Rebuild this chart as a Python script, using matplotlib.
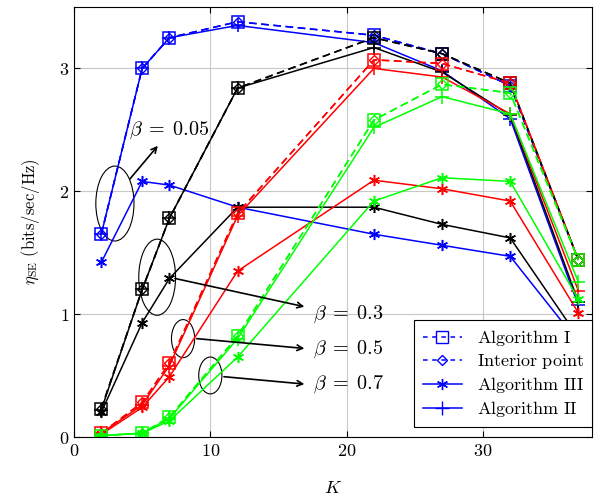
import numpy as np
import matplotlib
matplotlib.use('Agg')
import matplotlib.pyplot as plt
from matplotlib.patches import Ellipse
from matplotlib.lines import Line2D

plt.rcParams['mathtext.fontset'] = 'cm'
plt.rcParams['font.family'] = 'serif'
plt.rcParams['font.serif'] = ['DejaVu Serif']

K = [2, 5, 7, 12, 22, 27, 32, 37]

# beta = 0.05 (blue)
alg1_b005 = [1.65, 3.00, 3.25, 3.38, 3.27, 3.12, 2.86, 1.44]
ip_b005 = [1.65, 3.00, 3.25, 3.38, 3.27, 3.12, 2.86, 1.44]
alg3_b005 = [1.42, 2.08, 2.05, 1.87, 1.65, 1.56, 1.47, 0.77]
alg2_b005 = [1.65, 3.00, 3.25, 3.35, 3.21, 2.98, 2.59, 1.07]

# beta = 0.3 (black)
alg1_b03 = [0.23, 1.20, 1.78, 2.84, 3.25, 3.12, 2.88, 1.44]
ip_b03 = [0.23, 1.20, 1.78, 2.84, 3.25, 3.12, 2.88, 1.44]
alg3_b03 = [0.20, 0.93, 1.29, 1.87, 1.87, 1.73, 1.62, 0.81]
alg2_b03 = [0.22, 1.20, 1.78, 2.84, 3.17, 2.97, 2.62, 1.10]

# beta = 0.5 (red)
alg1_b05 = [0.03, 0.28, 0.60, 1.82, 3.07, 3.04, 2.88, 1.44]
ip_b05 = [0.03, 0.28, 0.60, 1.82, 3.07, 3.04, 2.88, 1.44]
alg3_b05 = [0.02, 0.24, 0.49, 1.35, 2.09, 2.02, 1.92, 1.01]
alg2_b05 = [0.03, 0.26, 0.58, 1.80, 3.00, 2.93, 2.63, 1.19]

# beta = 0.7 (green)
alg1_b07 = [0.01, 0.03, 0.16, 0.82, 2.58, 2.87, 2.80, 1.44]
ip_b07 = [0.01, 0.03, 0.16, 0.82, 2.58, 2.87, 2.80, 1.44]
alg3_b07 = [0.01, 0.03, 0.13, 0.65, 1.92, 2.11, 2.08, 1.12]
alg2_b07 = [0.01, 0.03, 0.15, 0.80, 2.52, 2.77, 2.63, 1.26]

groups = [
    ('blue', alg1_b005, ip_b005, alg3_b005, alg2_b005),
    ('black', alg1_b03, ip_b03, alg3_b03, alg2_b03),
    ('red', alg1_b05, ip_b05, alg3_b05, alg2_b05),
    ('#00ff00', alg1_b07, ip_b07, alg3_b07, alg2_b07),
]

asterisk = (6, 2, 0)
lw = 1.1

fig = plt.figure(figsize=(5.94, 5.01), dpi=100)
ax = fig.add_axes([0.1246, 0.128, 0.8720, 0.858])

for c, a1, ip, a3, a2 in groups:
    ax.plot(K, a3, color=c, lw=lw, marker=asterisk, ms=8, mew=1.1)
    ax.plot(K, a2, color=c, lw=lw, marker='+', ms=10, mew=1.1)
    ax.plot(K, a1, color=c, lw=lw, ls=(0, (5, 3)), marker='s', ms=9,
            mfc='none', mew=1.1)
    ax.plot(K, ip, color=c, lw=lw, ls=(0, (5, 3)), marker='D', ms=5,
            mfc='none', mew=1.0)

# annotations
ax.add_patch(Ellipse((3.0, 1.9), 2.8, 0.61, fill=False, ec='black', lw=0.8))
ax.add_patch(Ellipse((6.1, 1.3), 2.7, 0.62, fill=False, ec='black', lw=0.8))
ax.add_patch(Ellipse((8.0, 0.8), 1.7, 0.31, fill=False, ec='black', lw=0.8))
ax.add_patch(Ellipse((10.0, 0.5), 1.7, 0.30, fill=False, ec='black', lw=0.8))

arr = dict(arrowstyle='->', color='black', lw=1.2, shrinkA=0, shrinkB=0)
ax.annotate('', xy=(6.15, 2.37), xytext=(4.1, 2.1), arrowprops=arr)
ax.annotate('', xy=(16.9, 1.06), xytext=(7.4, 1.29), arrowprops=arr)
ax.annotate('', xy=(16.9, 0.72), xytext=(9.0, 0.80), arrowprops=arr)
ax.annotate('', xy=(16.9, 0.43), xytext=(11.0, 0.49), arrowprops=arr)

ax.text(4.0, 2.5, r'$\beta\;=\;0.05$', fontsize=14.5, va='center', ha='left')
ax.text(17.5, 1.0, r'$\beta\;=\;0.3$', fontsize=14.5, va='center', ha='left')
ax.text(17.5, 0.71, r'$\beta\;=\;0.5$', fontsize=14.5, va='center', ha='left')
ax.text(17.5, 0.43, r'$\beta\;=\;0.7$', fontsize=14.5, va='center', ha='left')

ax.set_xlim(0, 38)
ax.set_ylim(0, 3.5)
ax.set_xticks([0, 10, 20, 30])
ax.set_xticklabels(['$0$', '$10$', '$20$', '$30$'])
ax.set_yticks([0, 1, 2, 3])
ax.set_yticklabels(['$0$', '$1$', '$2$', '$3$'])
ax.tick_params(direction='in', top=True, right=True, labelsize=13, length=4)
ax.grid(True, color='#c8c8c8', lw=0.8)
ax.set_axisbelow(True)
ax.set_xlabel(r'$K$', fontsize=13, labelpad=14)
ax.set_ylabel(r'$\eta_{\mathrm{SE}}\ \mathrm{(bits/sec/Hz)}$', fontsize=12,
              labelpad=12)

handles = [
    Line2D([], [], color='blue', lw=lw, ls=(0, (3, 3)), marker='s', ms=8,
           mfc='none'),
    Line2D([], [], color='blue', lw=lw, ls=(0, (3, 3)), marker='D', ms=5,
           mfc='none'),
    Line2D([], [], color='blue', lw=lw, marker=asterisk, ms=8),
    Line2D([], [], color='blue', lw=lw, marker='+', ms=10),
]
labels = [r'$\mathrm{Algorithm\ I}$', r'$\mathrm{Interior\ point}$',
          r'$\mathrm{Algorithm\ III}$', r'$\mathrm{Algorithm\ II}$']
leg = ax.legend(handles, labels, loc='lower right', bbox_to_anchor=(1.0, 0.023),
                borderaxespad=0, fontsize=13, fancybox=False, framealpha=1,
                edgecolor='black', handlelength=2.2, labelspacing=0.22,
                borderpad=0.45)
leg.get_frame().set_linewidth(0.8)

fig.savefig('out.png', dpi=100)
